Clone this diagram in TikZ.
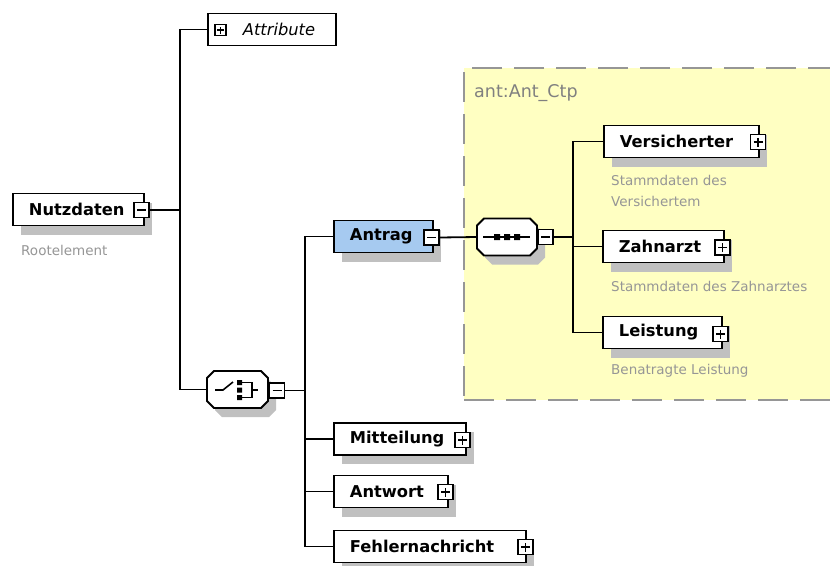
\documentclass[tikz,border=0pt]{standalone}
\usepackage{fontspec}
\setmainfont{DejaVu Sans}
\usetikzlibrary{shadows}
\definecolor{shadowc}{RGB}{192,192,192}
\definecolor{yellowbg}{RGB}{255,255,194}
\definecolor{dashc}{RGB}{150,150,150}
\definecolor{descc}{RGB}{150,150,150}
\definecolor{titlec}{RGB}{128,128,128}
\definecolor{antragc}{RGB}{166,202,240}
\newcommand\compo[5]{%
  \node[inner sep=0pt,minimum width=#4pt,minimum height=#5pt] (#1) at (#2,#3) {};
  \pgfmathsetmacro\xl{#2-#4/2}%
  \pgfmathsetmacro\xr{#2+#4/2}%
  \pgfmathsetmacro\yt{#3-#5/2}%
  \pgfmathsetmacro\yb{#3+#5/2}%
  \fill[shadowc,shift={(8,9)}] (\xl+7,\yt) -- (\xr-7,\yt) -- (\xr,\yt+7) -- (\xr,\yb-7) -- (\xr-7,\yb) -- (\xl+7,\yb) -- (\xl,\yb-7) -- (\xl,\yt+7) -- cycle;
  \draw[line width=1.8pt,fill=white] (\xl+7,\yt) -- (\xr-7,\yt) -- (\xr,\yt+7) -- (\xr,\yb-7) -- (\xr-7,\yb) -- (\xl+7,\yb) -- (\xl,\yb-7) -- (\xl,\yt+7) -- cycle;
}
\begin{document}
\begin{tikzpicture}[x=1pt,y=-1pt,
  conn/.style={line width=1.8pt,draw=black},
  elem/.style={draw=black,line width=1.8pt,fill=white,anchor=west,minimum height=32pt,
    inner xsep=16pt,inner ysep=0pt,align=left,font=\fontsize{16.3}{19}\selectfont\bfseries,
    drop shadow={shadow xshift=8pt,shadow yshift=-9pt,fill=shadowc,opacity=1}},
  pmbox/.style={draw=black,line width=1.6pt,fill=white,minimum size=15pt,inner sep=0pt},
  minusbox/.style={pmbox,path picture={\draw[line width=1.6pt]
    ([xshift=-4.5pt]path picture bounding box.center) -- ([xshift=4.5pt]path picture bounding box.center);}},
  plusbox/.style={pmbox,path picture={\draw[line width=1.6pt]
    ([xshift=-4.5pt]path picture bounding box.center) -- ([xshift=4.5pt]path picture bounding box.center)
    ([yshift=-4.5pt]path picture bounding box.center) -- ([yshift=4.5pt]path picture bounding box.center);}},
  smallplus/.style={pmbox,minimum size=11pt,line width=1.4pt,path picture={\draw[line width=1.5pt]
    ([xshift=-3.5pt]path picture bounding box.center) -- ([xshift=3.5pt]path picture bounding box.center)
    ([yshift=-3.5pt]path picture bounding box.center) -- ([yshift=3.5pt]path picture bounding box.center);}},
  desc/.style={anchor=west,inner sep=0pt,text=descc,align=left,font=\fontsize{13.5}{21}\selectfont},
]
\useasboundingbox (0,0) rectangle (830,565);
\clip (0,0) rectangle (830,565);
\fill[white] (0,0) rectangle (830,565);

% complex type frame
\node[draw=dashc,line width=2pt,dash pattern=on 30pt off 12pt,fill=yellowbg,anchor=north west,
  minimum width=420pt,minimum height=332pt,inner sep=0pt] (ctp) at (463,67) {};
\node[anchor=west,inner sep=0pt,text=titlec,font=\fontsize{17.5}{20}\selectfont] (ctpt) at (474,93) {ant:Ant\_Ctp};

% root
\node[elem,text width=99pt] (nutz) at (12,209.5) {Nutzdaten};
\node[minusbox] (nutzm) at (141.5,210) {};
\node[desc] (nutzd) at (21,250) {Rootelement};

% attributes
\node[draw=black,line width=1.8pt,fill=white,anchor=west,minimum height=32pt,inner xsep=16pt,inner ysep=0pt,
  text width=96pt,align=left,font=\fontsize{16.3}{19}\selectfont\itshape] (attr) at (207,29.5) {\hspace*{19pt}Attribute};
\node[smallplus] (attrp) at (220.5,30) {};

% choice compositor
\compo{choice}{237.5}{389.5}{61}{37}
\draw[line width=1.6pt] (215,390) -- (223,390) -- (233,382);
\fill (237,380) rectangle (242,385) (237,387.5) rectangle (242,392.5) (237,395) rectangle (242,400);
\draw[line width=1.6pt] (242,382.5) -- (252,382.5) -- (252,397.5) -- (242,397.5) (252,390) -- (258,390);
\node[minusbox] (choicem) at (277,390.5) {};

% elements of the choice
\node[elem,fill=antragc,text width=67pt] (antrag) at (333,236.5) {Antrag};
\node[minusbox] (antragm) at (431.5,237.5) {};
\node[elem,text width=100pt] (mitt) at (333,439) {Mitteilung};
\node[plusbox] (mittp) at (462.5,440) {};
\node[elem,text width=82pt] (antw) at (333,491.5) {Antwort};
\node[plusbox] (antwp) at (445.5,492) {};
\node[elem,text width=160pt] (fehl) at (333,546.5) {Fehlernachricht};
\node[plusbox] (fehlp) at (525.5,547) {};

% sequence compositor
\compo{seq}{507}{237}{60}{37}
\draw[line width=1.6pt] (483,237) -- (530,237);
\fill (494,234) rectangle (500,240) (504,234) rectangle (510,240) (514,234) rectangle (520,240);
\node[minusbox] (seqm) at (545.5,237) {};

% elements of the sequence
\node[elem,text width=123pt] (vers) at (603,141.5) {Versicherter};
\node[plusbox] (versp) at (758,142) {};
\node[desc] (versd) at (611,190.5) {Stammdaten des\\Versichertem};
\node[elem,text width=89pt] (zahn) at (602,246.5) {Zahnarzt};
\node[plusbox] (zahnp) at (722.5,247.5) {};
\node[desc] (zahnd) at (611,286) {Stammdaten des Zahnarztes};
\node[elem,text width=87pt] (leist) at (602,332.5) {Leistung};
\node[plusbox] (leistp) at (720.5,334) {};
\node[desc] (leistd) at (611,371) {Benatragte Leistung};

% connectors
\coordinate (j1) at (180,0);
\coordinate (j2) at (305,0);
\coordinate (j3) at (573,0);
\draw[conn] (nutzm.east) -- (nutzm.east -| j1);
\draw[conn] (attr.west) -- (attr.west -| j1) -- (choice.west -| j1) -- (choice.west);
\draw[conn] (choicem.east) -- (choicem.east -| j2);
\draw[conn] (antrag.west) -- (antrag.west -| j2) -- (fehl.west -| j2) -- (fehl.west);
\draw[conn] (mitt.west) -- (mitt.west -| j2);
\draw[conn] (antw.west) -- (antw.west -| j2);
\draw[conn] (antragm.east) -- (seq.west);
\draw[conn] (seqm.east) -- (seqm.east -| j3);
\draw[conn] (vers.west) -- (vers.west -| j3) -- (leist.west -| j3) -- (leist.west);
\draw[conn] (zahn.west) -- (zahn.west -| j3);
\end{tikzpicture}
\end{document}
